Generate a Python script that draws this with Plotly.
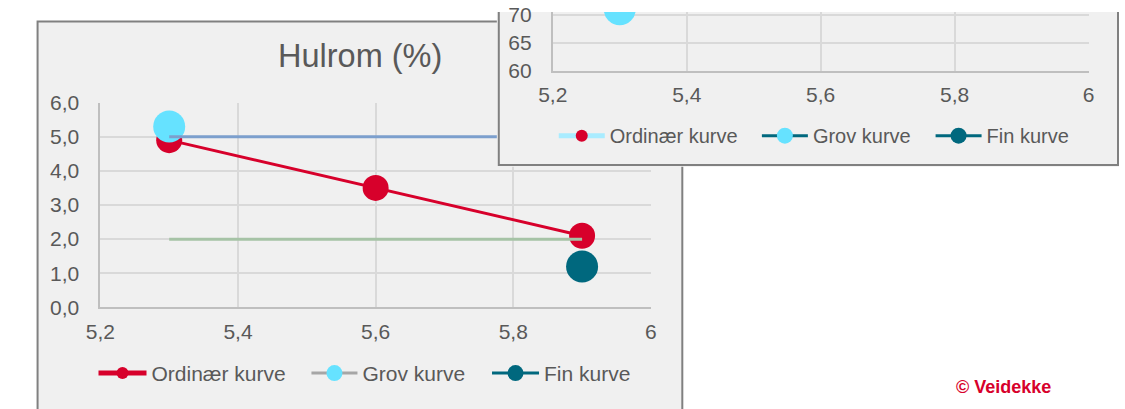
import plotly.graph_objects as go

W, H = 1125, 409

# ---------------- data: left chart "Hulrom (%)" ----------------
ord_x = [5.3, 5.6, 5.9]
ord_y = [4.9, 3.5, 2.1]
grov_x = [5.3]
grov_y = [5.3]
fin_x = [5.9]
fin_y = [1.2]
upper_x = [5.3, 5.9]
upper_y = [5.0, 5.0]
lower_x = [5.3, 5.9]
lower_y = [2.0, 2.0]

x_tickvals = [5.2, 5.4, 5.6, 5.8, 6.0]
x_ticktext = ["5,2", "5,4", "5,6", "5,8", "6"]
yl_tickvals = [0, 1, 2, 3, 4, 5, 6]
yl_ticktext = ["0,0", "1,0", "2,0", "3,0", "4,0", "5,0", "6,0"]

# ---------------- data: right chart (partly visible) ----------------
grov_r_x = [5.3]
grov_r_y = [71]
yr_tickvals = [60, 65, 70]
yr_ticktext = ["60", "65", "70"]

legend_names = ["Ordinær kurve", "Grov kurve", "Fin kurve"]

RED = "#d7002b"
CYAN = "#66e2ff"
TEAL = "#00687e"
BLUE = "#7c9fcd"
GREEN = "#a6c3a6"
GRAYLINE = "#a6a6a6"
LIGHTCYAN = "#a9ecff"
TXT = "#595959"
GRID = "#d9d9d9"
AXL = "#bfbfbf"
PANEL = "#f0f0f0"
BORDER = "#808080"
FONT = "Liberation Sans, Arial, sans-serif"


def fx(px):
    return px / W


def fy(py):
    return 1 - py / H


fig = go.Figure()

# left chart
fig.add_trace(go.Scatter(x=ord_x, y=ord_y, mode="lines+markers", name=legend_names[0],
                         line=dict(color=RED, width=3), marker=dict(color=RED, size=26),
                         legend="legend", xaxis="x", yaxis="y"))
fig.add_trace(go.Scatter(x=grov_x, y=grov_y, mode="lines+markers", name=legend_names[1],
                         line=dict(color=GRAYLINE, width=3), marker=dict(color=CYAN, size=32),
                         legend="legend2", xaxis="x", yaxis="y"))
fig.add_trace(go.Scatter(x=fin_x, y=fin_y, mode="lines+markers", name=legend_names[2],
                         line=dict(color=TEAL, width=3), marker=dict(color=TEAL, size=32),
                         legend="legend3", xaxis="x", yaxis="y"))
fig.add_trace(go.Scatter(x=upper_x, y=upper_y, mode="lines", showlegend=False,
                         line=dict(color=BLUE, width=3), xaxis="x", yaxis="y"))
fig.add_trace(go.Scatter(x=lower_x, y=lower_y, mode="lines", showlegend=False,
                         line=dict(color=GREEN, width=3), xaxis="x", yaxis="y"))

# subplot that carries the opaque frame of the overlapping second chart
fig.add_trace(go.Scatter(x=[None], y=[None], mode="markers", showlegend=False,
                         hoverinfo="skip", xaxis="x2", yaxis="y2"))

# right chart
fig.add_trace(go.Scatter(x=[None], y=[None], mode="lines+markers", name=legend_names[0],
                         line=dict(color=LIGHTCYAN, width=3), marker=dict(color=RED, size=12),
                         legend="legend4", xaxis="x3", yaxis="y3"))
fig.add_trace(go.Scatter(x=grov_r_x, y=grov_r_y, mode="lines+markers", name=legend_names[1],
                         line=dict(color=TEAL, width=3), marker=dict(color=CYAN, size=32),
                         cliponaxis=True, legend="legend5", xaxis="x3", yaxis="y3"))
fig.add_trace(go.Scatter(x=[None], y=[None], mode="lines+markers", name=legend_names[2],
                         line=dict(color=TEAL, width=3), marker=dict(color=TEAL, size=32),
                         legend="legend6", xaxis="x3", yaxis="y3"))

axfont = dict(family=FONT, size=21, color=TXT)
common_ax = dict(showgrid=True, gridcolor=GRID, gridwidth=2, zeroline=False,
                 showline=True, linecolor=AXL, linewidth=2, ticks="",
                 tickfont=axfont, fixedrange=True)

x0_l, x1_l, yb_l, yt_l = 87, 648, 313, 96
x0_r, x1_r, yb_r = 548, 1094, 62
r_units_per_px = 5 / 29.5

fig.update_layout(
    width=W, height=H, autosize=False,
    margin=dict(l=0, r=0, t=0, b=0, pad=0),
    paper_bgcolor="white", plot_bgcolor=PANEL,
    font=dict(family=FONT, color=TXT),
    separators=",.",
    hovermode=False,
    xaxis=dict(domain=[fx(x0_l), fx(x1_l)], range=[5.2, 6.0], tickvals=x_tickvals,
               ticktext=x_ticktext, anchor="y", ticklabelstandoff=4, **common_ax),
    yaxis=dict(domain=[fy(yb_l), fy(yt_l)], range=[0, 6], tickvals=yl_tickvals,
               ticktext=yl_ticktext, anchor="x", ticklabelstandoff=15, **common_ax),
    xaxis2=dict(domain=[fx(491), 1], range=[491, W], visible=False, anchor="y2", fixedrange=True),
    yaxis2=dict(domain=[fy(164), 1], range=[164, 0], visible=False, anchor="x2", fixedrange=True),
    xaxis3=dict(domain=[fx(x0_r), fx(x1_r)], range=[5.2, 6.0], tickvals=x_tickvals,
                ticktext=x_ticktext, anchor="y3", ticklabelstandoff=4, **common_ax),
    yaxis3=dict(domain=[fy(yb_r), 1], range=[60, 60 + yb_r * r_units_per_px],
                tickvals=yr_tickvals, ticktext=yr_ticktext, anchor="x3",
                ticklabelstandoff=15, **common_ax),
)

leg_common = dict(orientation="h", xanchor="left", yanchor="middle",
                  bgcolor="rgba(0,0,0,0)", borderwidth=0)
lfont = dict(family=FONT, size=21, color=TXT)
rfont = dict(family=FONT, size=20, color=TXT)
fig.update_layout(
    legend=dict(x=fx(80), y=fy(383), itemsizing="constant", itemwidth=48, font=lfont, **leg_common),
    legend2=dict(x=fx(297), y=fy(383), itemsizing="trace", itemwidth=46, font=lfont, **leg_common),
    legend3=dict(x=fx(481), y=fy(383), itemsizing="trace", itemwidth=47, font=lfont, **leg_common),
    legend4=dict(x=fx(549), y=fy(131), itemsizing="constant", itemwidth=46, font=rfont, **leg_common),
    legend5=dict(x=fx(756), y=fy(131), itemsizing="trace", itemwidth=46, font=rfont, **leg_common),
    legend6=dict(x=fx(933), y=fy(131), itemsizing="trace", itemwidth=46, font=rfont, **leg_common),
)

# panel frames
fig.add_shape(type="rect", xref="paper", yref="paper", layer="below",
              x0=fx(23), x1=fx(680), y0=fy(10), y1=fy(H + 20),
              fillcolor=PANEL, line=dict(color=BORDER, width=2))
fig.add_shape(type="rect", xref="x2", yref="y2", layer="below",
              x0=493, x1=1124, y0=162, y1=-10,
              fillcolor=PANEL, line=dict(color=BORDER, width=2))

fig.add_annotation(text="Hulrom (%)", xref="paper", yref="paper", x=fx(352), y=fy(47),
                   xanchor="center", yanchor="middle", showarrow=False,
                   font=dict(family=FONT, size=32.5, color=TXT))
fig.add_annotation(text="<b>© Veidekke</b>", xref="paper", yref="paper", x=fx(1007), y=fy(397),
                   xanchor="center", yanchor="middle", showarrow=False,
                   font=dict(family=FONT, size=18, color="#d7002b"))

fig.write_html("out.html", config={"displayModeBar": False},
               post_script="document.body.style.margin='0';document.body.style.overflow='hidden';")
